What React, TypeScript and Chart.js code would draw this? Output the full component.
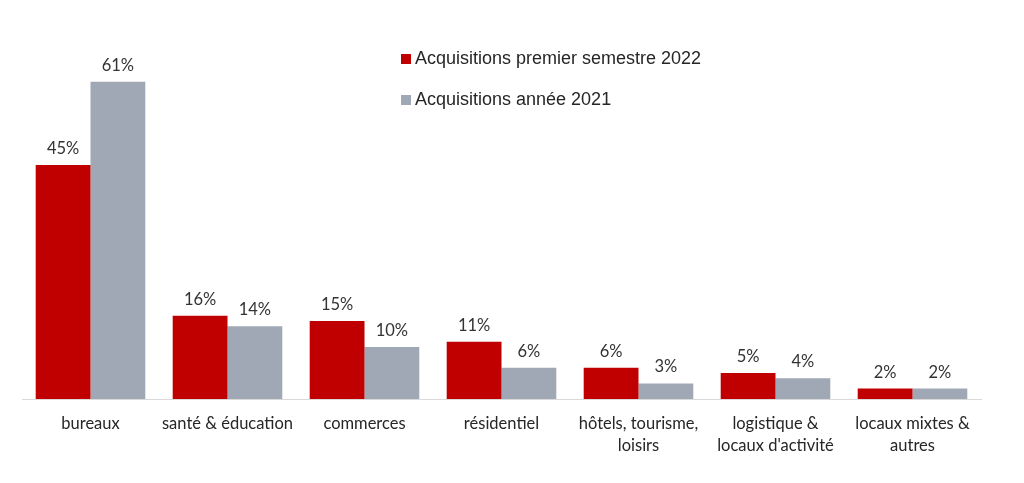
import React, { useEffect, useRef } from "react";
import { Chart, registerables } from "chart.js";

Chart.register(...registerables);

const categories: (string | string[])[] = [
  "bureaux",
  "santé & éducation",
  "commerces",
  "résidentiel",
  ["hôtels, tourisme,", "loisirs"],
  ["logistique &", "locaux d'activité"],
  ["locaux mixtes &", "autres"],
];
const series2022 = [45, 16, 15, 11, 6, 5, 2];
const series2021 = [61, 14, 10, 6, 3, 4, 2];
const label2022 = "Acquisitions premier semestre 2022";
const label2021 = "Acquisitions année 2021";
const red = "#C00000";
const gray = "#A0A8B6";

const labelFont = "Lato, 'Open Sans', sans-serif";

const valueLabels = {
  id: "valueLabels",
  afterDatasetsDraw(chart: any) {
    const ctx = chart.ctx;
    ctx.save();
    ctx.font = `16.5px ${labelFont}`;
    ctx.fillStyle = "#333333";
    ctx.textAlign = "center";
    ctx.textBaseline = "bottom";
    chart.data.datasets.forEach((ds: any, i: number) => {
      const meta = chart.getDatasetMeta(i);
      meta.data.forEach((bar: any, j: number) => {
        ctx.fillText(`${ds.data[j]}%`, bar.x, bar.y - 8);
      });
    });
    ctx.restore();
  },
};

const customLegend = {
  id: "customLegend",
  afterDraw(chart: any) {
    const ctx = chart.ctx;
    ctx.save();
    ctx.font = "18px 'Liberation Sans', Arial, sans-serif";
    ctx.textBaseline = "middle";
    ctx.textAlign = "left";
    const items = [
      { text: label2022, color: red, y: 59 },
      { text: label2021, color: gray, y: 100 },
    ];
    items.forEach((it) => {
      ctx.fillStyle = it.color;
      ctx.fillRect(401, it.y - 5, 10, 10);
      ctx.fillStyle = "#262626";
      ctx.fillText(it.text, 415, it.y);
    });
    ctx.restore();
  },
};

export default function App() {
  const ref = useRef<HTMLCanvasElement>(null);
  useEffect(() => {
    if (!ref.current) return;
    const chart = new Chart(ref.current, {
      type: "bar",
      data: {
        labels: categories as any,
        datasets: [
          { label: label2022, data: series2022, backgroundColor: red, categoryPercentage: 0.8, barPercentage: 1 },
          { label: label2021, data: series2021, backgroundColor: gray, categoryPercentage: 0.8, barPercentage: 1 },
        ],
      },
      options: {
        responsive: false,
        animation: false,
        layout: { padding: { top: 35, left: 22, right: 43, bottom: 0 } },
        plugins: {
          legend: { display: false },
          tooltip: { enabled: false },
        },
        scales: {
          x: {
            grid: { display: false, drawTicks: false },
            border: { display: true, color: "#D9D9D9", width: 1 },
            ticks: {
              padding: 14,
              color: "#262626",
              font: { family: labelFont, size: 16.5, lineHeight: 1.33 },
              maxRotation: 0,
              autoSkip: false,
            },
            afterFit: (scale: any) => {
              scale.height = 84;
            },
          },
          y: {
            display: false,
            min: 0,
            max: 70,
          },
        },
      },
      plugins: [valueLabels, customLegend],
    });
    return () => chart.destroy();
  }, []);
  return (
    <div style={{ position: "fixed", left: 0, top: 0, width: 1024, height: 483, background: "#fff" }}>
      <canvas ref={ref} width={1024} height={483} style={{ width: 1024, height: 483 }} />
    </div>
  );
}
